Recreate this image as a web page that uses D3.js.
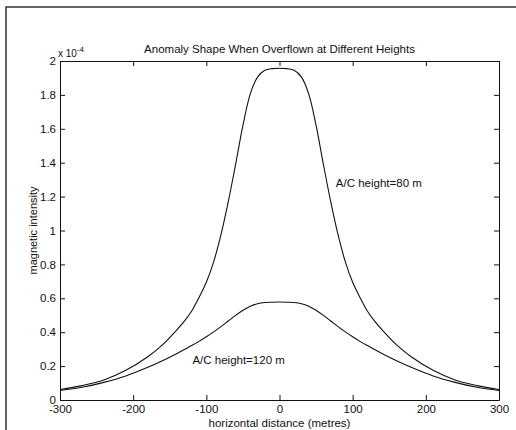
<!DOCTYPE html>
<html>
<head>
<meta charset="utf-8">
<script src="https://cdn.jsdelivr.net/npm/d3@7"></script>
<style>
  body { margin: 0; background: #fff; }
  text { font-family: "Liberation Sans", Arial, sans-serif; fill: #111; }
</style>
</head>
<body>
<svg id="chart" width="516" height="430"></svg>
<script>
const svg = d3.select('#chart');

// horizontal distance (m) sample positions
const distance = [-300, -270, -240, -210, -180, -160, -140, -130, -120, -110, -100, -90, -80, -70, -60, -50, -40, -30, -20, -10,
  0, 10, 20, 30, 40, 50, 60, 70, 80, 90, 100, 110, 120, 130, 140, 160, 180, 210, 240, 270, 300];

// magnetic intensity, units of 1e-4
const height80 = [0.062, 0.085, 0.118, 0.175, 0.255, 0.325, 0.415, 0.465, 0.525, 0.605, 0.695, 0.815, 0.975, 1.17, 1.39, 1.62, 1.805, 1.905, 1.945, 1.955,
  1.957, 1.955, 1.945, 1.905, 1.805, 1.62, 1.39, 1.17, 0.975, 0.815, 0.695, 0.605, 0.525, 0.465, 0.415, 0.325, 0.255, 0.175, 0.118, 0.085, 0.062];
const height120 = [0.056, 0.075, 0.104, 0.142, 0.193, 0.232, 0.275, 0.298, 0.321, 0.346, 0.373, 0.402, 0.433, 0.466, 0.499, 0.529, 0.553, 0.568, 0.575, 0.577,
  0.578, 0.577, 0.575, 0.568, 0.553, 0.529, 0.499, 0.466, 0.433, 0.402, 0.373, 0.346, 0.321, 0.298, 0.275, 0.232, 0.193, 0.142, 0.104, 0.075, 0.056];

const xTicks = [-300, -200, -100, 0, 100, 200, 300];
const yTicks = [0, 0.2, 0.4, 0.6, 0.8, 1, 1.2, 1.4, 1.6, 1.8, 2];

const margin = { top: 61, right: 17, bottom: 30, left: 60 };
const innerWidth = 516 - margin.left - margin.right;
const innerHeight = 430 - margin.top - margin.bottom;

// outer figure frame (cropped at right and bottom)
svg.append('rect')
    .attr('x', 6).attr('y', 7)
    .attr('width', 600).attr('height', 600)
    .attr('fill', 'none')
    .attr('stroke', '#333')
    .attr('stroke-width', 1.5);

const xScale = d3.scaleLinear().domain([-300, 300]).range([0, innerWidth]);
const yScale = d3.scaleLinear().domain([0, 2]).range([innerHeight, 0]);

const g = svg.append('g')
    .attr('transform', 'translate(' + margin.left + ',' + margin.top + ')');

// axes, matlab style: inward ticks on every side
const styleAxis = sel => {
  sel.selectAll('path, line').attr('stroke', '#111');
  sel.selectAll('text').style('font-size', '11.5px').attr('fill', '#111');
};

g.append('g')
    .attr('transform', 'translate(0,' + innerHeight + ')')
    .call(d3.axisBottom(xScale).tickValues(xTicks).tickSizeInner(-5).tickSizeOuter(0).tickPadding(5)
      .tickFormat(d => String(d)))
    .call(styleAxis);

g.append('g')
    .call(d3.axisTop(xScale).tickValues(xTicks).tickSizeInner(-5).tickSizeOuter(0).tickFormat(''))
    .call(styleAxis);

g.append('g')
    .call(d3.axisLeft(yScale).tickValues(yTicks).tickSizeInner(-5).tickSizeOuter(0).tickPadding(4)
      .tickFormat(d => String(d)))
    .call(styleAxis);

g.append('g')
    .attr('transform', 'translate(' + innerWidth + ',0)')
    .call(d3.axisRight(yScale).tickValues(yTicks).tickSizeInner(-5).tickSizeOuter(0).tickFormat(''))
    .call(styleAxis);

// curves
const line = d3.line()
    .x((d, i) => xScale(distance[i]))
    .y(d => yScale(d))
    .curve(d3.curveCatmullRom.alpha(0.5));

[height80, height120].forEach(series => {
  g.append('path')
      .datum(series)
      .attr('d', line)
      .attr('fill', 'none')
      .attr('stroke', '#111')
      .attr('stroke-width', 1.1);
});

// annotations
g.append('text')
    .attr('x', xScale(77)).attr('y', yScale(1.255))
    .style('font-size', '11.5px')
    .text('A/C height=80 m');

g.append('text')
    .attr('x', xScale(-119)).attr('y', yScale(0.21))
    .style('font-size', '11.5px')
    .text('A/C height=120 m');

// exponent label
const expo = svg.append('text')
    .attr('x', 58).attr('y', 57)
    .style('font-size', '10px');
expo.append('tspan').text('x 10');
expo.append('tspan').attr('dy', -5).style('font-size', '8px').text('-4');

// title
svg.append('text')
    .attr('x', margin.left + innerWidth / 2).attr('y', 53)
    .style('text-anchor', 'middle')
    .style('font-size', '11.5px')
    .text('Anomaly Shape When Overflown at Different Heights');

// x label
svg.append('text')
    .attr('x', margin.left + innerWidth / 2).attr('y', 427)
    .style('text-anchor', 'middle')
    .style('font-size', '11.5px')
    .text('horizontal distance (metres)');

// y label
svg.append('text')
    .attr('transform', 'translate(37,' + (margin.top + innerHeight / 2) + ') rotate(-90)')
    .style('text-anchor', 'middle')
    .style('font-size', '11px')
    .text('magnetic intensity');
</script>
</body>
</html>
